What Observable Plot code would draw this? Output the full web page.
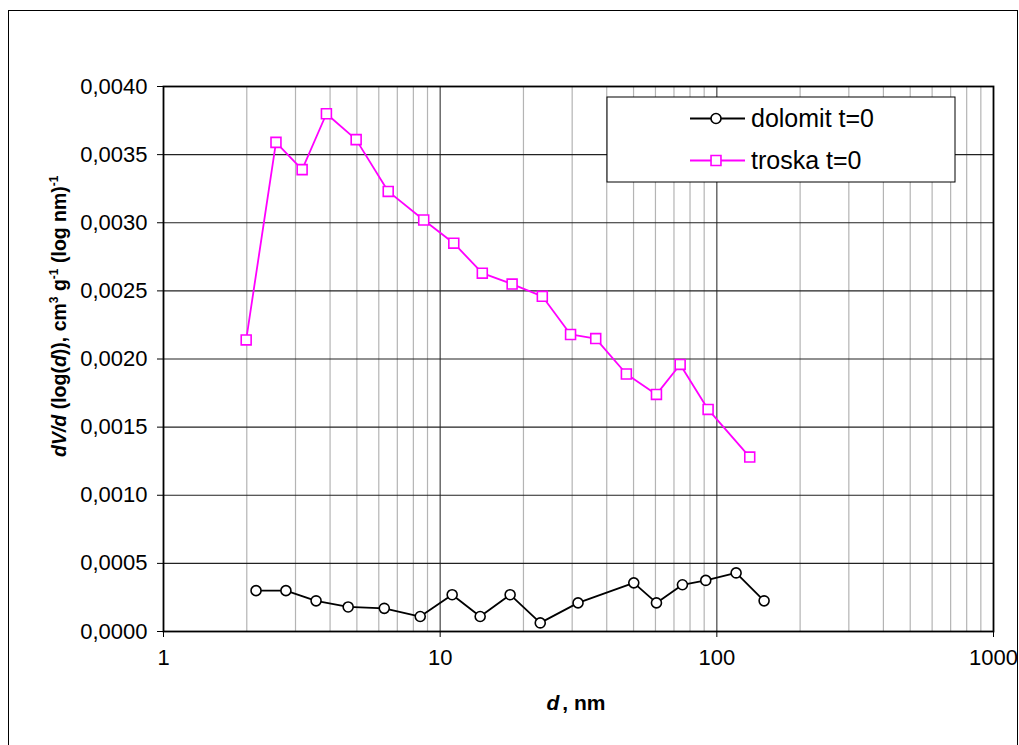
<!DOCTYPE html>
<html>
<head>
<meta charset="utf-8">
<script src="https://cdn.jsdelivr.net/npm/d3@7"></script>
<script src="https://cdn.jsdelivr.net/npm/@observablehq/plot@0.6"></script>
<style>
  html, body { margin: 0; padding: 0; background: #fff; }
  #chart { width: 1019px; height: 745px; overflow: hidden; }
</style>
</head>
<body>
<div id="chart"></div>
<script>
// Pore-size distribution, dV/d(log d) against pore diameter d (nm)
const troskaD = [1.99, 2.55, 3.17, 3.88, 4.97, 6.49, 8.72, 11.2, 14.2, 18.2, 23.4, 29.6, 36.5, 47.1, 60.5, 73.7, 93.0, 131.5];
const troskaV = [0.00214, 0.00359, 0.00339, 0.00380, 0.00361, 0.00323, 0.00302, 0.00285, 0.00263, 0.00255, 0.00246, 0.00218, 0.00215, 0.00189, 0.00174, 0.00196, 0.00163, 0.00128];

const dolomitD = [2.16, 2.77, 3.56, 4.65, 6.28, 8.47, 11.05, 13.95, 17.9, 23.0, 31.5, 50.1, 60.5, 75.1, 91.2, 117.4, 148.2];
const dolomitV = [0.00030, 0.00030, 0.000225, 0.00018, 0.00017, 0.00011, 0.00027, 0.00011, 0.00027, 0.000063, 0.00021, 0.000357, 0.00021, 0.000343, 0.000375, 0.00043, 0.000225];

const seriesNames = ["dolomit t=0", "troska t=0"];
const xMajorTicks = [1, 10, 100, 1000];
const yTicks = [0, 0.0005, 0.001, 0.0015, 0.002, 0.0025, 0.003, 0.0035, 0.004];

const troska = troskaD.map((d, i) => ({d, v: troskaV[i]}));
const dolomit = dolomitD.map((d, i) => ({d, v: dolomitV[i]}));

// minor log grid: 2..9 within each decade
const xMinorTicks = [];
for (const base of [1, 10, 100]) for (let k = 2; k <= 9; k++) xMinorTicks.push(base * k);

const FONT = "Arial, 'Liberation Sans', sans-serif";
const MAGENTA = "#ff00ff";
const fmtY = v => d3.format(".4f")(v).replace(".", ",");

const chart = Plot.plot({
  width: 1019,
  height: 745,
  marginLeft: 163,
  marginRight: 26,
  marginTop: 86,
  marginBottom: 114,
  style: {fontFamily: FONT, fontSize: "22px", color: "#000", background: "#fff", overflow: "visible"},
  x: {type: "log", domain: [1, 1000], ticks: xMajorTicks, tickFormat: d => String(d), tickSize: 6, tickPadding: 12, label: null},
  y: {domain: [0, 0.004], ticks: yTicks, tickFormat: fmtY, tickSize: 6, tickPadding: 10, label: null},
  marks: [
    Plot.ruleX(xMinorTicks, {stroke: "#b4b4b4", strokeWidth: 1.2}),
    Plot.ruleX(xMajorTicks.slice(1, 3), {stroke: "#444", strokeWidth: 1.2}),
    Plot.ruleY(yTicks.slice(1, -1), {stroke: "#222", strokeWidth: 1.1}),
    Plot.frame({stroke: "#000", strokeWidth: 1.8}),
    Plot.line(dolomit, {x: "d", y: "v", stroke: "#000", strokeWidth: 1.8}),
    Plot.dot(dolomit, {x: "d", y: "v", r: 5, symbol: "circle", fill: "#fff", stroke: "#000", strokeWidth: 1.6}),
    Plot.line(troska, {x: "d", y: "v", stroke: MAGENTA, strokeWidth: 1.8}),
    Plot.dot(troska, {x: "d", y: "v", r: 5.6, symbol: "square", fill: "#fff", stroke: MAGENTA, strokeWidth: 1.6})
  ]
});

document.getElementById("chart").appendChild(chart);

const svg = d3.select(chart);

// outer chart-area border
svg.append("rect")
  .attr("x", 8.5).attr("y", 10.5).attr("width", 1009).attr("height", 760)
  .attr("fill", "none").attr("stroke", "#000").attr("stroke-width", 1);

// y-axis title with italic parts and superscripts
const yTitle = svg.append("text")
  .attr("transform", "translate(66,457) rotate(-90)")
  .attr("font-family", FONT).attr("font-size", 19.5).attr("font-weight", "bold")
  .attr("text-anchor", "start").attr("fill", "#000");
yTitle.append("tspan").attr("font-style", "italic").text("dV/d");
yTitle.append("tspan").text(" (log(");
yTitle.append("tspan").attr("font-style", "italic").text("d");
yTitle.append("tspan").text(")), cm");
yTitle.append("tspan").attr("font-size", 12).attr("dy", -8).text("3");
yTitle.append("tspan").attr("dy", 8).text(" g");
yTitle.append("tspan").attr("font-size", 12).attr("dy", -8).text("-1");
yTitle.append("tspan").attr("dy", 8).text(" (log nm)");
yTitle.append("tspan").attr("font-size", 12).attr("dy", -8).text("-1");

// x-axis title
const xTitle = svg.append("text")
  .attr("x", 576).attr("y", 710)
  .attr("font-family", FONT).attr("font-size", 21).attr("font-weight", "bold")
  .attr("text-anchor", "middle").attr("fill", "#000");
xTitle.append("tspan").attr("font-style", "italic").text("d");
xTitle.append("tspan").attr("dx", 3).text(", nm");

// legend
const legend = svg.append("g").attr("font-family", FONT).attr("font-size", 25).attr("text-anchor", "start");
legend.append("rect")
  .attr("x", 607).attr("y", 97).attr("width", 348).attr("height", 85)
  .attr("fill", "#fff").attr("stroke", "#000").attr("stroke-width", 1);
const rows = [
  {name: seriesNames[0], color: "#000", symbol: d3.symbolCircle, size: Math.PI * 5 * 5, y: 118.5},
  {name: seriesNames[1], color: MAGENTA, symbol: d3.symbolSquare, size: Math.PI * 5.6 * 5.6, y: 160.5}
];
for (const r of rows) {
  legend.append("line").attr("x1", 690).attr("x2", 745).attr("y1", r.y).attr("y2", r.y)
    .attr("stroke", r.color).attr("stroke-width", 1.8);
  legend.append("path").attr("d", d3.symbol(r.symbol, r.size)())
    .attr("transform", `translate(716,${r.y})`)
    .attr("fill", "#fff").attr("stroke", r.color).attr("stroke-width", 1.6);
  legend.append("text").attr("x", 751).attr("y", r.y + 8.5).attr("fill", "#000").text(r.name);
}
</script>
</body>
</html>
